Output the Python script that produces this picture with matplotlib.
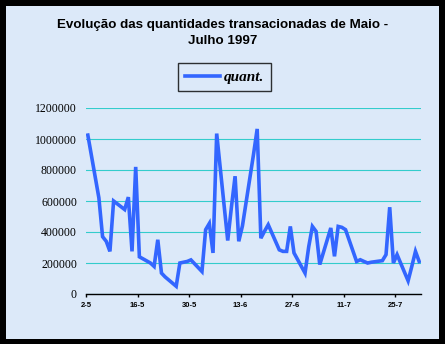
import numpy as np
import pandas as pd
import matplotlib
matplotlib.use("Agg")
import matplotlib.pyplot as plt
import matplotlib.dates as mdates
from matplotlib.patches import Rectangle
from matplotlib.lines import Line2D

# dias de bolsa e quantidades transacionadas
dias = pd.bdate_range("1997-05-02", "1997-07-31")
quant = [1025000,
         620000, 370000, 340000, 275000, 600000,
         545000, 625000, 275000, 820000, 240000,
         200000, 178000, 350000, 135000, 110000,
         50000, 200000, 205000, 210000, 220000,
         145000, 415000, 455000, 265000, 1035000,
         345000, 560000, 760000, 340000, 440000,
         900000, 1065000, 360000, 405000, 447000,
         285000, 275000, 275000, 436000, 265000,
         135000, 305000, 436000, 404000, 190000,
         426000, 243000, 436000, 430000, 415000,
         210000, 221000, 210000, 200000, 205000,
         215000, 254000, 560000, 200000, 254000,
         85000, 178000, 275000, 210000]

tick_datas = ["1997-05-02", "1997-05-16", "1997-05-30", "1997-06-13",
              "1997-06-27", "1997-07-11", "1997-07-25"]
tick_labels = ["2-5", "16-5", "30-5", "13-6", "27-6", "11-7", "25-7"]
y_ticks = [0, 200000, 400000, 600000, 800000, 1000000, 1200000]

W, H = 445, 344
fig = plt.figure(figsize=(W / 100, H / 100), dpi=100, facecolor="black")

# area do grafico (fundo azul claro)
fig.patches.append(Rectangle((6 / W, 5 / H), 433 / W, 333 / H,
                             transform=fig.transFigure, facecolor="#dce9f9",
                             edgecolor="none", zorder=-5))

ax = fig.add_axes([86 / W, 1 - 294 / H, 335 / W, 186 / H], zorder=2)
ax.set_facecolor("none")

x = mdates.date2num(dias.to_pydatetime()) + 0.5
ax.plot(x, quant, color="#3366ff", lw=2.6, solid_joinstyle="miter", zorder=3)

ax.set_xlim(mdates.date2num(pd.Timestamp("1997-05-02")),
            mdates.date2num(pd.Timestamp("1997-08-01")))
ax.set_ylim(0, 1200000)

ax.set_yticks(y_ticks)
ax.set_yticklabels([str(v) for v in y_ticks], family="Liberation Serif", fontsize=8.5)
ax.tick_params(axis="y", length=0, pad=6.5)
ax.yaxis.grid(True, color="#33cccc", lw=0.8)
ax.set_axisbelow(True)

ax.set_xticks(mdates.date2num(pd.to_datetime(tick_datas).to_pydatetime()))
ax.set_xticklabels(tick_labels, family="Liberation Sans", fontsize=5.5, fontweight="bold")
ax.tick_params(axis="x", direction="out", length=2.5, width=1, pad=3)

for s in ["left", "top", "right"]:
    ax.spines[s].set_visible(False)
ax.spines["bottom"].set_linewidth(1)
ax.spines["bottom"].set_zorder(4)

fig.text(222.5 / W, 1 - 33 / H,
         "Evolução das quantidades transacionadas de Maio -\nJulho 1997",
         ha="center", va="center", family="Liberation Sans", fontweight="bold",
         fontsize=9.6, linespacing=1.45)

handle = Line2D([], [], color="#3366ff", lw=2.6)
leg = fig.legend([handle], ["quant."], loc="center",
                 bbox_to_anchor=(224.5 / W, 1 - 77 / H),
                 prop={"family": "Liberation Serif", "style": "italic",
                       "weight": "bold", "size": 11},
                 frameon=True, fancybox=False, handlelength=2.3,
                 handletextpad=0.25, borderpad=0.45, borderaxespad=0)
leg.get_frame().set_edgecolor("black")
leg.get_frame().set_facecolor("none")
leg.get_frame().set_linewidth(1)

fig.savefig("out.png", dpi=100, facecolor="black")
